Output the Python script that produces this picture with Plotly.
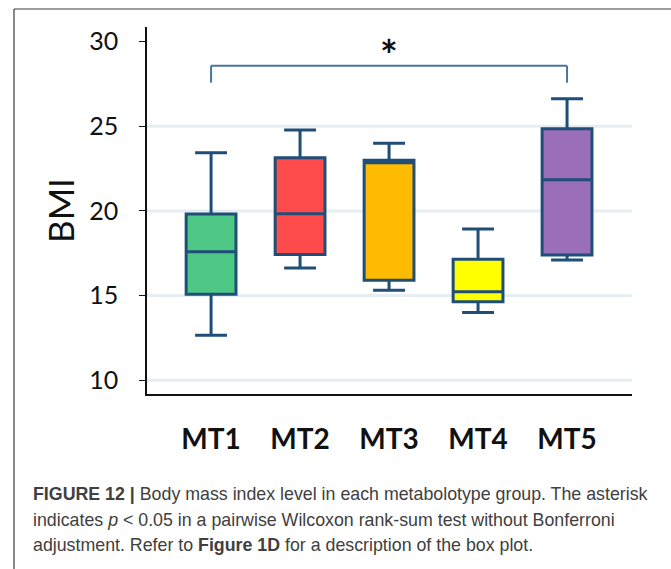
import plotly.graph_objects as go

# BMI summary statistics per metabolotype group
groups = ["MT1", "MT2", "MT3", "MT4", "MT5"]
lower_whisker = [12.65, 16.63, 15.31, 14.0, 17.1]
q1 = [15.07, 17.43, 15.9, 14.63, 17.39]
median = [17.59, 19.83, 22.85, 15.22, 21.84]
q3 = [19.82, 23.14, 23.0, 17.14, 24.86]
upper_whisker = [23.44, 24.78, 24.0, 18.93, 26.63]
fill_colors = ["#4ec884", "#ff4b4b", "#ffbb00", "#ffff00", "#9b6eb9"]

y_ticks = [10, 15, 20, 25, 30]
grid_values = [10, 15, 20, 25]

# significance bracket between MT1 and MT5
bracket_pair = ("MT1", "MT5")
bracket_top = 28.58
bracket_foot = 27.58

caption_lines = [
    "<b>FIGURE 12 |</b> Body mass index level in each metabolotype group. The asterisk",
    "indicates <i>p</i> &lt; 0.05 in a pairwise Wilcoxon rank-sum test without Bonferroni",
    "adjustment. Refer to <b>Figure 1D</b> for a description of the box plot.",
]

W, H = 671, 569
ML, MR, MT_, MB = 147, 39, 27, 175
plot_w = W - ML - MR
plot_h = H - MT_ - MB


def px_x(px):
    return (px - ML) / plot_w


def px_y(py):
    return (H - MB - py) / plot_h


edge = "#1f4e79"
fig = go.Figure()
for i, g in enumerate(groups):
    fig.add_trace(go.Box(
        x=[g],
        q1=[q1[i]], median=[median[i]], q3=[q3[i]],
        lowerfence=[lower_whisker[i]], upperfence=[upper_whisker[i]],
        fillcolor=fill_colors[i],
        line=dict(color=edge, width=3),
        width=0.56,
        whiskerwidth=0.64,
        boxpoints=False,
        hoverinfo="skip",
        showlegend=False,
    ))

shapes = []
for v in grid_values:
    shapes.append(dict(type="line", xref="paper", yref="y", x0=0, x1=1, y0=v, y1=v,
                       line=dict(color="#e7eef1", width=3), layer="below"))

i0, i1 = groups.index(bracket_pair[0]), groups.index(bracket_pair[1])
bcol = "#4a74a0"
shapes += [
    dict(type="line", xref="x", yref="y", x0=i0, x1=i1, y0=bracket_top, y1=bracket_top,
         line=dict(color=bcol, width=2)),
    dict(type="line", xref="x", yref="y", x0=i0, x1=i0, y0=bracket_top, y1=bracket_foot,
         line=dict(color=bcol, width=2)),
    dict(type="line", xref="x", yref="y", x0=i1, x1=i1, y0=bracket_top, y1=bracket_foot,
         line=dict(color=bcol, width=2)),
]

# outer figure frame (left and top edges)
frame = "#3a3a3a"
shapes += [
    dict(type="line", xref="paper", yref="paper", x0=px_x(14), x1=px_x(14),
         y0=px_y(9), y1=px_y(H + 5), line=dict(color=frame, width=1.2)),
    dict(type="line", xref="paper", yref="paper", x0=px_x(14), x1=px_x(W + 5),
         y0=px_y(9), y1=px_y(9), line=dict(color=frame, width=1.2)),
]

annotations = [
    dict(text="<b>*</b>", x=(i0 + i1) / 2, y=29.2, xref="x", yref="y", showarrow=False,
         font=dict(family="Lato", size=42, color="#111111"), yanchor="middle"),
    dict(text="BMI", x=px_x(60), y=px_y(211), xref="paper", yref="paper", showarrow=False,
         textangle=-90, font=dict(family="Lato", size=35, color="#111111"),
         xanchor="center", yanchor="middle"),
]
for k, line in enumerate(caption_lines):
    annotations.append(dict(
        text=line, x=px_x(31), y=px_y(494 + 25.5 * k), xref="paper", yref="paper",
        showarrow=False, xanchor="left", yanchor="middle", align="left",
        font=dict(family="Liberation Sans", size=17.8, color="#404040"),
    ))

fig.update_layout(
    width=W, height=H,
    margin=dict(l=ML, r=MR, t=MT_, b=MB),
    paper_bgcolor="white", plot_bgcolor="white",
    boxmode="overlay",
    shapes=shapes,
    annotations=annotations,
    xaxis=dict(
        type="category", categoryorder="array", categoryarray=groups,
        range=[-0.72, 4.73],
        showline=True, linecolor="#111111", linewidth=1.5,
        showgrid=False, ticks="", zeroline=False,
        tickfont=dict(family="Lato", size=28, color="#111111", weight="bold"),
        ticklabelstandoff=20,
    ),
    yaxis=dict(
        range=[9.18, 30.87],
        tickvals=y_ticks,
        showline=True, linecolor="#111111", linewidth=1.5,
        ticks="outside", ticklen=6, tickcolor="#111111", tickwidth=1,
        showgrid=False, zeroline=False,
        tickfont=dict(family="Lato", size=25, color="#111111"),
        ticklabelstandoff=16,
    ),
)

fig.write_html("out.html")
